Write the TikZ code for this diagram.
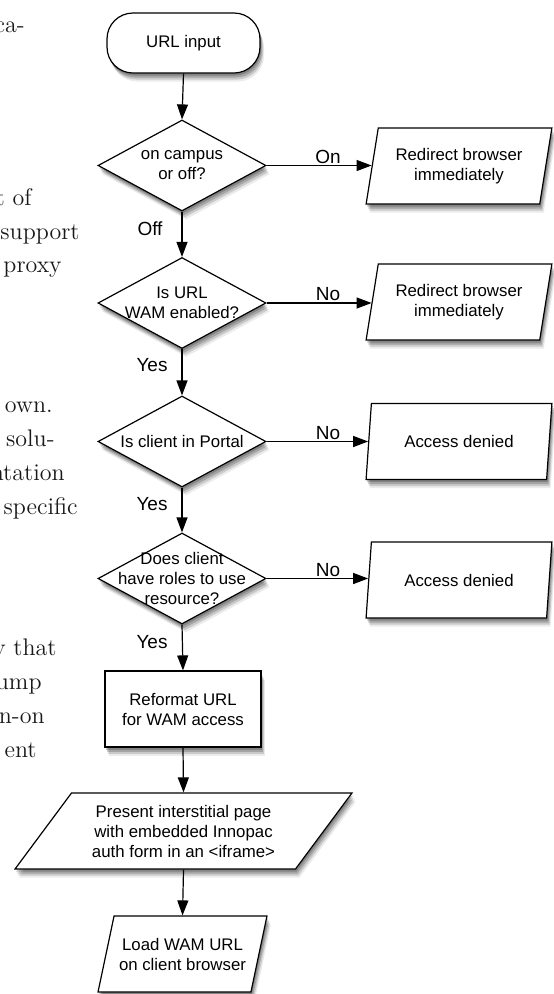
\documentclass[tikz,border=0pt]{standalone}
\usepackage{fontspec}
\newfontfamily\flowfont{Liberation Sans}
\usetikzlibrary{shapes.geometric,arrows.meta,shadows}

\begin{document}
\begin{tikzpicture}[x=1pt,y=-1pt,
  softshadow/.style={
    drop shadow={shadow xshift=1pt,shadow yshift=-2.5pt,opacity=0.2,fill=black},
    drop shadow={shadow xshift=2pt,shadow yshift=-4.5pt,opacity=0.18,fill=black},
    drop shadow={shadow xshift=3pt,shadow yshift=-6.5pt,opacity=0.14,fill=black},
    drop shadow={shadow xshift=4pt,shadow yshift=-8.5pt,opacity=0.08,fill=black}},
  shapebase/.style={draw=black,line width=1.2pt,fill=white,inner sep=0pt,softshadow},
  terminal/.style={shapebase,rectangle,rounded corners=26pt,minimum width=153pt,minimum height=60pt},
  decision/.style={shapebase,diamond,minimum width=168pt,minimum height=91pt},
  procbox/.style={shapebase,rectangle,minimum width=156pt,minimum height=76pt},
  iobox/.style={shapebase,trapezium,trapezium stretches=true,minimum height=76pt,
    font=\flowfont\fontsize{16.8}{20}\selectfont,align=center},
  flowtext/.style={font=\flowfont\fontsize{16.8}{20}\selectfont,align=center,inner sep=0pt},
  lab/.style={font=\flowfont\fontsize{19}{22}\selectfont,inner sep=0pt,anchor=base},
  bodytext/.style={font=\fontsize{12}{14}\selectfont,scale=2,text=black!90,inner sep=0pt,anchor=base east},
  conn/.style={line width=1.2pt,-{Triangle[length=15pt,width=11pt]}}
]
\fill[white] (0,0) rectangle (554,994);
\useasboundingbox (0,0) rectangle (554,994);

% body text fragments on the left
\node[bodytext] (b1) at (25,32) {ca-};
\node[bodytext] (b2) at (32,205) {t of};
\node[bodytext] (b3) at (80,239) {support};
\node[bodytext] (b4) at (62,272) {proxy};
\node[bodytext] (b5) at (53,412) {own.};
\node[bodytext] (b6) at (55,446) {solu-};
\node[bodytext] (b7) at (65,480) {ntation};
\node[bodytext] (b8) at (78,514) {specific};
\node[bodytext] (b9) at (57,655) {y that};
\node[bodytext] (b10) at (42,689) {ump};
\node[bodytext] (b11) at (45,723) {n-on};
\node[bodytext] (b12) at (37,757) {ent};

% main column
\node[terminal] (start) at (183.5,43) {};
\node[flowtext] (startt) at (start) {URL input};

\node[decision] (d1) at (182,165.5) {};
\node[flowtext] (d1t) at (d1) {on campus\\or off?};
\node[decision] (d2) at (182,303) {};
\node[flowtext] (d2t) at (d2) {Is URL\\WAM enabled?};
\node[decision] (d3) at (182,441.5) {};
\node[flowtext] (d3t) at (d3) {Is client in Portal};
\node[decision] (d4) at (182,578.5) {};
\node[flowtext] (d4t) at (d4) {Does client\\have roles to use\\resource?};

\node[procbox] (ref) at (183,709) {};
\node[flowtext] (reft) at (ref) {Reformat URL\\for WAM access};

\node[iobox,trapezium left angle=48.6,trapezium right angle=131.4,minimum width=337pt] (pres) at (183.5,831) {Present interstitial page\\with embedded Innopac\\auth form in an <iframe>};

\node[iobox,trapezium left angle=65.3,trapezium right angle=114.7,minimum width=169pt] (load) at (182.5,954) {Load WAM URL\\on client browser};

% right column
\node[iobox,trapezium left angle=75,trapezium right angle=105,minimum width=186pt] (p1) at (459,166) {Redirect browser\\immediately};
\node[iobox,trapezium left angle=75,trapezium right angle=105,minimum width=186pt] (p2) at (459,302) {Redirect browser\\immediately};
\node[iobox,trapezium left angle=75,trapezium right angle=105,minimum width=186pt] (p3) at (459,441.5) {Access denied};
\node[iobox,trapezium left angle=75,trapezium right angle=105,minimum width=186pt] (p4) at (459,580) {Access denied};

% connectors
\draw[conn] (start.south) -- (d1.north);
\draw[conn] (d1.south) -- (d2.north);
\draw[conn] (d2.south) -- (d3.north);
\draw[conn] (d3.south) -- (d4.north);
\draw[conn] (d4.south) -- (ref.north);
\draw[conn] (ref.south) -- (pres.north);
\draw[conn] (pres.south) -- (load.north);

\draw[conn] (d1.east) -- (d1.east -| p1.west);
\draw[conn] (d2.east) -- (d2.east -| p2.west);
\draw[conn] (d3.east) -- (d3.east -| p3.west);
\draw[conn] (d4.east) -- (d4.east -| p4.west);

% connector labels
\node[lab] (lon) at (328,163) {On};
\node[lab] (loff) at (150,235) {Off};
\node[lab] (lno1) at (328,300) {No};
\node[lab] (lyes1) at (152,371) {Yes};
\node[lab] (lno2) at (328,439) {No};
\node[lab] (lyes2) at (152,510) {Yes};
\node[lab] (lno3) at (328,576) {No};
\node[lab] (lyes3) at (152,648) {Yes};
\end{tikzpicture}
\end{document}
